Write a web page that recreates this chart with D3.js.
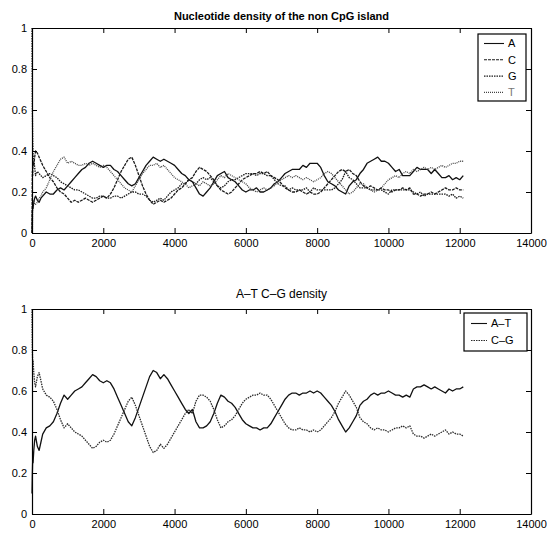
<!DOCTYPE html>
<html>
<head>
<meta charset="utf-8">
<script src="https://cdn.jsdelivr.net/npm/d3@7"></script>
<style>
  body { margin: 0; background: #fff; }
  svg { display: block; font-family: "Liberation Sans", Arial, sans-serif; }
</style>
</head>
<body>
<svg id="chart" width="547" height="535"></svg>
<script>
// sampling positions along the sequence (bases)
const earlyPos = [0, 10, 20, 30, 50, 75, 100, 150, 200, 250, 300]
const positions = earlyPos.concat(d3.range(400, 12101, 100))

const densA = [0.00, 0.10, 0.13, 0.12, 0.15, 0.17, 0.18, 0.16, 0.15, 0.17, 0.18,
  0.20, 0.19, 0.19, 0.21, 0.22, 0.21, 0.23, 0.25, 0.27, 0.29,
  0.31, 0.32, 0.34, 0.35, 0.34, 0.33, 0.32, 0.33, 0.33, 0.31,
  0.30, 0.28, 0.26, 0.24, 0.23, 0.24, 0.27, 0.30, 0.33, 0.35,
  0.37, 0.36, 0.35, 0.36, 0.35, 0.34, 0.33, 0.31, 0.29, 0.28,
  0.26, 0.25, 0.22, 0.19, 0.18, 0.20, 0.22, 0.25, 0.28, 0.29,
  0.30, 0.27, 0.26, 0.25, 0.23, 0.21, 0.20, 0.21, 0.21, 0.22,
  0.20, 0.20, 0.21, 0.22, 0.24, 0.25, 0.27, 0.29, 0.30, 0.31,
  0.31, 0.31, 0.33, 0.32, 0.34, 0.34, 0.34, 0.32, 0.28, 0.25,
  0.24, 0.23, 0.21, 0.20, 0.19, 0.23, 0.25, 0.26, 0.29, 0.31,
  0.34, 0.35, 0.36, 0.37, 0.35, 0.35, 0.34, 0.32, 0.30, 0.31,
  0.28, 0.28, 0.28, 0.30, 0.32, 0.31, 0.31, 0.31, 0.29, 0.31,
  0.29, 0.27, 0.27, 0.28, 0.26, 0.27, 0.26, 0.28]

const densC = [0.00, 0.30, 0.28, 0.35, 0.33, 0.37, 0.40, 0.39, 0.37, 0.35, 0.33,
  0.30, 0.27, 0.25, 0.22, 0.20, 0.19, 0.17, 0.15, 0.16, 0.15,
  0.16, 0.17, 0.16, 0.15, 0.16, 0.17, 0.18, 0.17, 0.19, 0.22,
  0.26, 0.30, 0.33, 0.36, 0.37, 0.33, 0.28, 0.23, 0.19, 0.16,
  0.14, 0.15, 0.16, 0.15, 0.16, 0.17, 0.19, 0.21, 0.22, 0.24,
  0.26, 0.27, 0.30, 0.32, 0.31, 0.30, 0.28, 0.26, 0.23, 0.21,
  0.20, 0.19, 0.20, 0.22, 0.24, 0.26, 0.27, 0.28, 0.29, 0.29,
  0.30, 0.29, 0.30, 0.28, 0.27, 0.26, 0.24, 0.22, 0.21, 0.20,
  0.20, 0.21, 0.20, 0.19, 0.20, 0.19, 0.19, 0.20, 0.22, 0.24,
  0.26, 0.28, 0.30, 0.31, 0.30, 0.31, 0.29, 0.28, 0.25, 0.23,
  0.22, 0.23, 0.22, 0.21, 0.22, 0.21, 0.21, 0.20, 0.21, 0.21,
  0.22, 0.21, 0.22, 0.19, 0.19, 0.18, 0.19, 0.19, 0.20, 0.19,
  0.20, 0.21, 0.22, 0.21, 0.21, 0.22, 0.21, 0.21]

const densG = [1.00, 0.60, 0.45, 0.38, 0.36, 0.32, 0.28, 0.30, 0.29, 0.28, 0.27,
  0.28, 0.29, 0.28, 0.27, 0.25, 0.24, 0.23, 0.22, 0.21, 0.21,
  0.20, 0.19, 0.18, 0.17, 0.17, 0.18, 0.18, 0.17, 0.17, 0.18,
  0.18, 0.17, 0.18, 0.19, 0.20, 0.20, 0.19, 0.19, 0.18, 0.16,
  0.15, 0.16, 0.17, 0.16, 0.18, 0.20, 0.21, 0.22, 0.24, 0.24,
  0.26, 0.25, 0.24, 0.26, 0.27, 0.26, 0.27, 0.25, 0.23, 0.22,
  0.23, 0.25, 0.26, 0.26, 0.27, 0.28, 0.29, 0.29, 0.29, 0.28,
  0.29, 0.29, 0.28, 0.28, 0.26, 0.24, 0.23, 0.23, 0.21, 0.22,
  0.21, 0.21, 0.21, 0.22, 0.20, 0.22, 0.21, 0.21, 0.21, 0.21,
  0.21, 0.22, 0.24, 0.26, 0.30, 0.27, 0.26, 0.24, 0.22, 0.22,
  0.22, 0.21, 0.21, 0.21, 0.21, 0.20, 0.19, 0.21, 0.21, 0.21,
  0.21, 0.21, 0.21, 0.20, 0.19, 0.20, 0.18, 0.19, 0.19, 0.19,
  0.19, 0.19, 0.19, 0.18, 0.19, 0.17, 0.18, 0.17]

const densT = [0.00, 0.00, 0.14, 0.15, 0.16, 0.14, 0.14, 0.15, 0.17, 0.18, 0.20,
  0.22, 0.26, 0.30, 0.33, 0.36, 0.37, 0.34, 0.35, 0.34, 0.33,
  0.33, 0.34, 0.33, 0.34, 0.33, 0.32, 0.33, 0.32, 0.30, 0.28,
  0.26, 0.24, 0.22, 0.21, 0.20, 0.23, 0.26, 0.29, 0.31, 0.33,
  0.33, 0.34, 0.32, 0.33, 0.31, 0.29, 0.27, 0.26, 0.25, 0.24,
  0.22, 0.23, 0.24, 0.23, 0.25, 0.24, 0.23, 0.24, 0.26, 0.28,
  0.27, 0.29, 0.28, 0.27, 0.26, 0.25, 0.24, 0.22, 0.21, 0.20,
  0.21, 0.22, 0.21, 0.22, 0.23, 0.25, 0.26, 0.27, 0.28, 0.27,
  0.28, 0.27, 0.26, 0.27, 0.26, 0.25, 0.26, 0.27, 0.29, 0.30,
  0.29, 0.27, 0.25, 0.23, 0.21, 0.19, 0.20, 0.22, 0.24, 0.24,
  0.22, 0.21, 0.20, 0.21, 0.22, 0.24, 0.26, 0.27, 0.28, 0.27,
  0.29, 0.30, 0.29, 0.31, 0.30, 0.31, 0.32, 0.31, 0.32, 0.31,
  0.32, 0.33, 0.32, 0.33, 0.34, 0.34, 0.35, 0.35]

const densAT = [0.10, 0.20, 0.27, 0.25, 0.31, 0.36, 0.38, 0.33, 0.31, 0.35, 0.39,
  0.42, 0.43, 0.45, 0.49, 0.54, 0.58, 0.56, 0.58, 0.60, 0.61,
  0.62, 0.64, 0.66, 0.68, 0.67, 0.65, 0.64, 0.65, 0.64, 0.61,
  0.57, 0.53, 0.49, 0.45, 0.43, 0.47, 0.52, 0.57, 0.62, 0.67,
  0.70, 0.69, 0.66, 0.68, 0.66, 0.63, 0.60, 0.57, 0.54, 0.51,
  0.49, 0.51, 0.45, 0.42, 0.42, 0.43, 0.45, 0.49, 0.54, 0.58,
  0.57, 0.55, 0.54, 0.52, 0.49, 0.46, 0.44, 0.43, 0.42, 0.42,
  0.41, 0.42, 0.42, 0.44, 0.47, 0.50, 0.53, 0.56, 0.58, 0.59,
  0.59, 0.58, 0.59, 0.59, 0.60, 0.59, 0.60, 0.59, 0.57, 0.55,
  0.53, 0.50, 0.46, 0.43, 0.40, 0.42, 0.45, 0.48, 0.53, 0.55,
  0.56, 0.58, 0.59, 0.58, 0.59, 0.59, 0.60, 0.59, 0.58, 0.58,
  0.57, 0.58, 0.57, 0.61, 0.62, 0.62, 0.63, 0.62, 0.61, 0.62,
  0.61, 0.60, 0.59, 0.61, 0.60, 0.61, 0.61, 0.62]

const densCG = [1.00, 0.80, 0.73, 0.75, 0.69, 0.64, 0.62, 0.67, 0.69, 0.65, 0.61,
  0.58, 0.57, 0.55, 0.51, 0.46, 0.42, 0.44, 0.42, 0.40, 0.39,
  0.38, 0.36, 0.34, 0.32, 0.33, 0.35, 0.36, 0.35, 0.36, 0.39,
  0.43, 0.47, 0.51, 0.55, 0.57, 0.53, 0.48, 0.43, 0.38, 0.33,
  0.30, 0.31, 0.34, 0.32, 0.34, 0.37, 0.40, 0.43, 0.46, 0.49,
  0.51, 0.49, 0.55, 0.58, 0.58, 0.57, 0.55, 0.51, 0.46, 0.42,
  0.43, 0.45, 0.46, 0.48, 0.51, 0.54, 0.56, 0.57, 0.58, 0.58,
  0.59, 0.58, 0.58, 0.56, 0.53, 0.50, 0.47, 0.44, 0.42, 0.41,
  0.41, 0.42, 0.41, 0.41, 0.40, 0.41, 0.40, 0.41, 0.43, 0.45,
  0.47, 0.50, 0.54, 0.57, 0.60, 0.58, 0.55, 0.52, 0.47, 0.45,
  0.44, 0.42, 0.41, 0.42, 0.41, 0.41, 0.40, 0.41, 0.42, 0.42,
  0.43, 0.42, 0.43, 0.39, 0.38, 0.38, 0.37, 0.38, 0.39, 0.38,
  0.39, 0.40, 0.41, 0.39, 0.40, 0.39, 0.39, 0.38]

const xTicks = [0, 2000, 4000, 6000, 8000, 10000, 12000, 14000]
const yTicks = [0, 0.2, 0.4, 0.6, 0.8, 1]

class LinePanel {

  constructor(_config, _series) {
    this.config = _config
    this.series = _series
    this.initVis()
  }

  initVis() {
    let vis = this
    let c = vis.config

    vis.svg = d3.select('#chart')

    vis.xScale = d3.scaleLinear().domain([0, 14000]).range([c.left, c.right])
    vis.yScale = d3.scaleLinear().domain([0, 1]).range([c.bottom, c.top])

    vis.g = vis.svg.append('g')

    vis.renderVis()
  }

  renderVis() {
    let vis = this
    let c = vis.config

    let line = d3.line()
      .x((d, i) => vis.xScale(positions[i]))
      .y(d => vis.yScale(d))

    vis.g.selectAll('.series')
      .data(vis.series)
      .join('path')
        .attr('class', 'series')
        .attr('fill', 'none')
        .attr('stroke', d => d.color)
        .attr('stroke-width', 1.3)
        .attr('stroke-dasharray', d => d.dash)
        .attr('stroke-linejoin', 'round')
        .attr('d', d => line(d.values))

    // axes with inward ticks on all four sides
    let fmt = d => String(d)
    let axes = [
      [d3.axisBottom(vis.xScale).tickValues(xTicks).tickFormat(fmt).tickPadding(6), `translate(0,${c.bottom})`],
      [d3.axisTop(vis.xScale).tickValues(xTicks).tickFormat(''), `translate(0,${c.top})`],
      [d3.axisLeft(vis.yScale).tickValues(yTicks).tickFormat(fmt).tickPadding(5), `translate(${c.left},0)`],
      [d3.axisRight(vis.yScale).tickValues(yTicks).tickFormat(''), `translate(${c.right},0)`]
    ]
    axes.forEach(([ax, tr]) => {
      vis.g.append('g')
        .attr('transform', tr)
        .call(ax.tickSizeInner(-5).tickSizeOuter(0))
        .call(g => g.select('.domain').attr('stroke', '#000').attr('stroke-width', 1.2))
        .call(g => g.selectAll('.tick line').attr('stroke', '#000'))
        .call(g => g.selectAll('text').attr('font-size', 11).attr('fill', '#000')
          .attr('font-family', '"Liberation Sans", Arial, sans-serif'))
    })

    vis.g.append('text')
      .attr('x', (c.left + c.right) / 2)
      .attr('y', c.titleY)
      .attr('text-anchor', 'middle')
      .attr('font-size', c.titleSize)
      .attr('font-weight', c.titleWeight)
      .text(c.title)

    // legend
    let lg = c.legend
    let legend = vis.g.append('g')
    legend.append('rect')
      .attr('x', lg.x).attr('y', lg.y)
      .attr('width', lg.w).attr('height', lg.h)
      .attr('fill', '#fff').attr('stroke', '#000').attr('stroke-width', 1.2)

    let items = legend.selectAll('.item')
      .data(vis.series)
      .join('g')
        .attr('class', 'item')
        .attr('transform', (d, i) => `translate(${lg.x},${lg.y + lg.first + i * lg.step})`)

    items.append('line')
      .attr('x1', lg.lineX0).attr('x2', lg.lineX1)
      .attr('stroke', d => d.color)
      .attr('stroke-width', 1.1)
      .attr('stroke-dasharray', d => d.dash)

    items.append('text')
      .attr('x', lg.textX)
      .attr('dy', '0.36em')
      .attr('font-size', 11)
      .attr('fill', d => d.labelColor || '#000')
      .text(d => d.name)
  }
}

new LinePanel({
  left: 32, right: 531, top: 28, bottom: 233,
  title: 'Nucleotide density of the non CpG island', titleY: 20, titleSize: 11, titleWeight: 'bold',
  legend: { x: 478, y: 34, w: 48, h: 67, first: 9.5, step: 16.3, lineX0: 6, lineX1: 26, textX: 30 }
}, [
  { name: 'A', values: densA, color: '#111', dash: null },
  { name: 'C', values: densC, color: '#1a1a1a', dash: '3,1' },
  { name: 'G', values: densG, color: '#1a1a1a', dash: '1.5,1' },
  { name: 'T', values: densT, color: '#444', dash: '1,1', labelColor: '#777' }
])

new LinePanel({
  left: 32, right: 531, top: 309, bottom: 514,
  title: 'A\u2013T C\u2013G density', titleY: 298, titleSize: 12, titleWeight: 'normal',
  legend: { x: 464, y: 313, w: 63, h: 38, first: 10.5, step: 17, lineX0: 7, lineX1: 23, textX: 27 }
}, [
  { name: 'A\u2013T', values: densAT, color: '#111', dash: null },
  { name: 'C\u2013G', values: densCG, color: '#2a2a2a', dash: '1.5,1' }
])
</script>
</body>
</html>
